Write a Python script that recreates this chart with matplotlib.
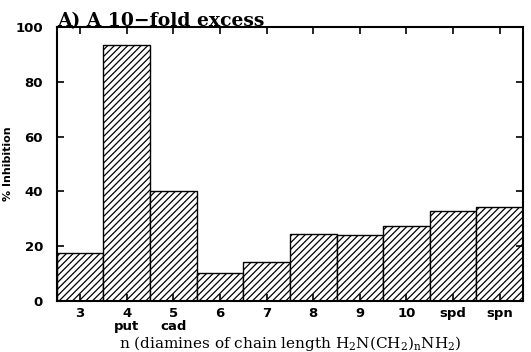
import matplotlib
matplotlib.use("Agg")
import matplotlib.pyplot as plt

plt.rcParams.update({
    "font.family": "DejaVu Sans",
    "font.weight": "bold",
    "hatch.linewidth": 0.9,
    "mathtext.default": "regular",
    "xtick.direction": "in",
    "ytick.direction": "in",
})

# chain length categories and % inhibition at 10-fold excess
chain = ["3", "4\nput", "5\ncad", "6", "7", "8", "9", "10", "spd", "spn"]
inhibition = [17.5, 93.4, 40.0, 10.2, 14.2, 24.5, 24.0, 27.4, 32.8, 34.3]
yticks = [0, 20, 40, 60, 80, 100]

fig = plt.figure(figsize=(5.31, 3.52), dpi=100)
ax = fig.add_axes([0.107, 0.145, 0.878, 0.778])

pos = list(range(len(chain)))
ax.bar(pos, inhibition, width=1.0, color="white", edgecolor="black",
       linewidth=1.0, hatch="/////")

ax.set_xlim(-0.5, len(chain) - 0.5)
ax.set_ylim(0, 100)
ax.set_xticks(pos)
ax.set_xticklabels(chain, fontsize=9.5, fontweight="bold", linespacing=1.0)
ax.set_yticks(yticks)
ax.set_yticklabels([str(v) for v in yticks], fontsize=9.5, fontweight="bold")
ax.tick_params(axis="both", top=True, right=True, length=5, width=1.2, pad=4)
ax.tick_params(axis="y", pad=10)
for s in ax.spines.values():
    s.set_linewidth(1.5)

ax.set_ylabel("% Inhibition", fontsize=8, fontweight="bold")
ax.yaxis.set_label_coords(-0.094, 0.5)
ax.set_xlabel("n (diamines of chain length H$_2$N(CH$_2$)$_n$NH$_2$)",
              family="DejaVu Serif", fontsize=11, labelpad=1)
ax.set_title("A) A 10\u2212fold excess", loc="left", family="DejaVu Serif",
             fontsize=13.5, fontweight="bold", pad=1)

fig.savefig("out.png", dpi=100)
